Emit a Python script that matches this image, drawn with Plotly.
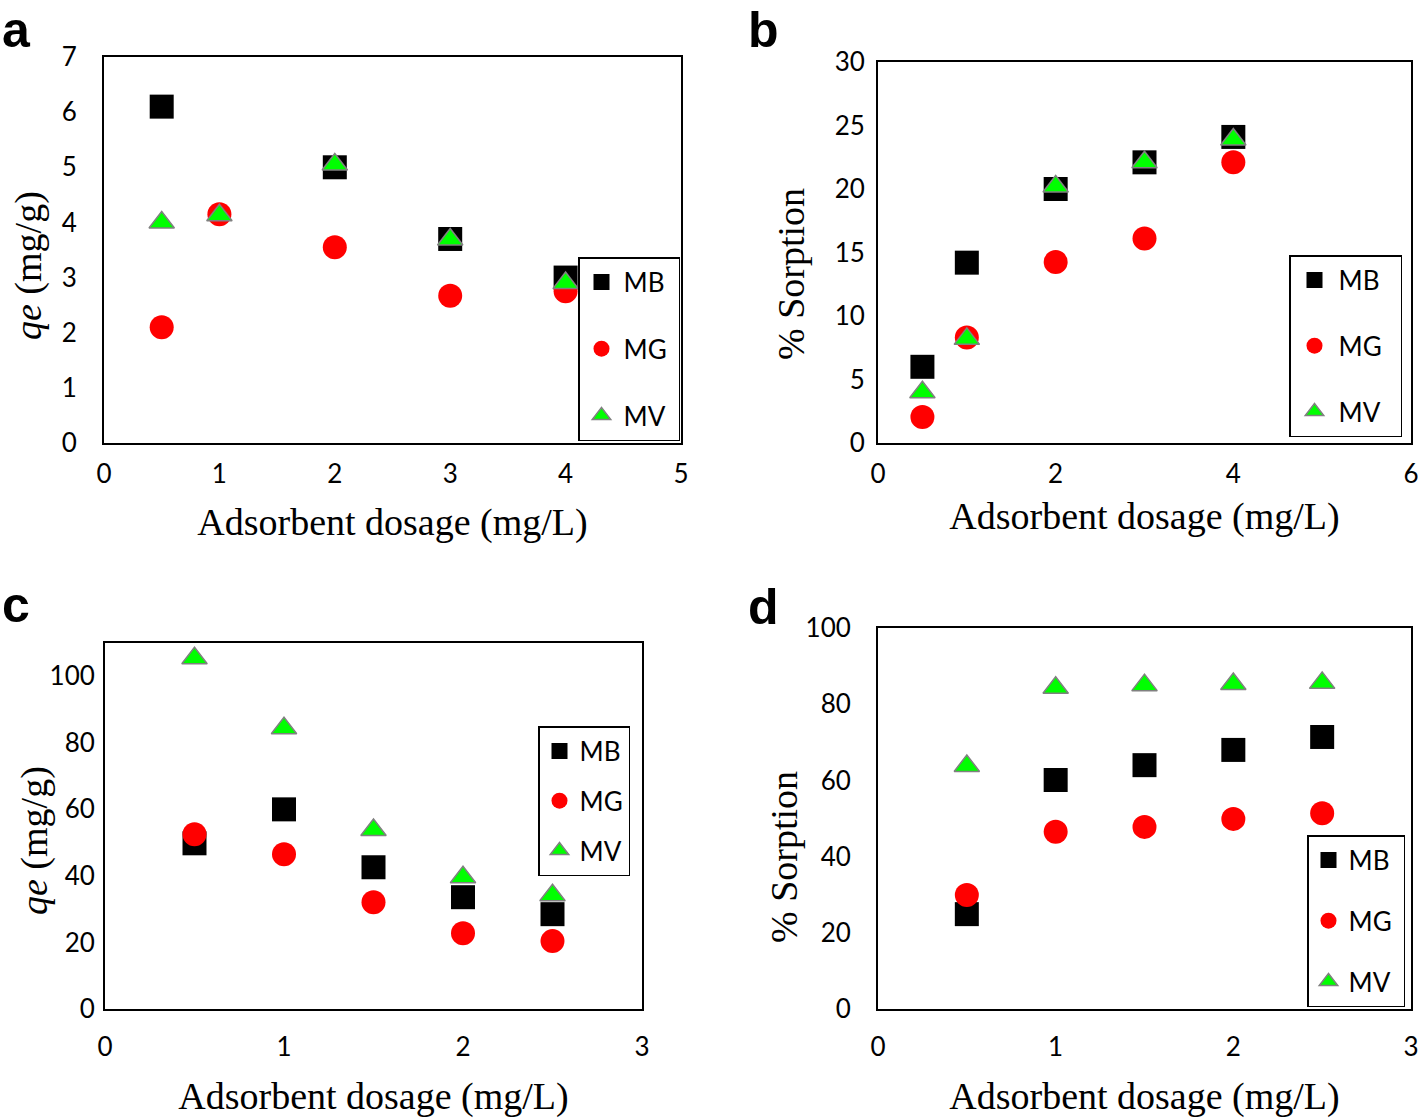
import plotly.graph_objects as go

# ---- data ----
a_x_MB = [0.5, 2, 3, 4]
a_MB = [6.1, 5.0, 3.7, 3.0]
a_x = [0.5, 1, 2, 3, 4]
a_MG = [2.1, 4.15, 3.55, 2.67, 2.75]
a_MV = [4.0, 4.13, 5.05, 3.69, 2.9]

b_x = [0.5, 1, 2, 3, 4]
b_MB = [6.0, 14.2, 20.0, 22.1, 24.1]
b_MG = [2.05, 8.3, 14.25, 16.1, 22.1]
b_MV = [4.0, 8.2, 20.2, 22.1, 23.9]

c_x = [0.5, 1, 1.5, 2, 2.5]
c_MB = [49.8, 60.0, 42.6, 33.6, 28.5]
c_MG = [52.5, 46.5, 32.1, 22.8, 20.4]
c_MV = [105.4, 84.4, 53.8, 39.6, 34.2]

d_x = [0.5, 1, 1.5, 2, 2.5]
d_MB = [24.9, 60.1, 64.0, 68.0, 71.4]
d_MG = [29.9, 46.5, 47.8, 49.9, 51.4]
d_MV = [63.8, 84.3, 85.0, 85.3, 85.6]

series_names = ["MB", "MG", "MV"]
panel_letters = ["a", "b", "c", "d"]
x_title = "Adsorbent dosage (mg/L)"
y_titles = ["<i>qe</i> (mg/g)", "% Sorption", "<i>qe</i> (mg/g)", "% Sorption"]

W, H = 1418, 1118
def px(x): return x / W
def py(y): return 1 - y / H

fig = go.Figure()

styles = {
    "MB": dict(symbol="square", color="black", size=24, line=dict(width=0)),
    "MG": dict(symbol="circle", color="#FF0000", size=24, line=dict(width=0)),
    "MV": dict(symbol="triangle-up", color="#00FF00", size=22, line=dict(width=1.5, color="#808080")),
}

NB = "\u00a0"
legend_pad = {"legend": 1, "legend2": 2, "legend3": 0, "legend4": 1}

panels = [
    ("x", "y", "legend", [(a_x_MB, a_MB), (a_x, a_MG), (a_x, a_MV)]),
    ("x2", "y2", "legend2", [(b_x, b_MB), (b_x, b_MG), (b_x, b_MV)]),
    ("x3", "y3", "legend3", [(c_x, c_MB), (c_x, c_MG), (c_x, c_MV)]),
    ("x4", "y4", "legend4", [(d_x, d_MB), (d_x, d_MG), (d_x, d_MV)]),
]
for xa, ya, lg, data in panels:
    for name, (xs, ys) in zip(series_names, data):
        fig.add_trace(go.Scatter(x=xs, y=ys, mode="markers", name=name + NB * legend_pad[lg],
                                 xaxis=xa, yaxis=ya, legend=lg,
                                 legendgroup=lg + name,
                                 marker=styles[name]))

tickfont = dict(family="Lato, Carlito, sans-serif", size=26, color="black")
titlefont = dict(family="Liberation Serif, Times New Roman, serif", size=38, color="black")

def xaxis(dom, rng, dt, anchor, lstand, standoff):
    return dict(domain=dom, range=rng, dtick=dt, anchor=anchor, showgrid=False,
                zeroline=False, showline=True, linecolor="black", linewidth=2,
                mirror=True, ticks="", tickfont=tickfont, ticklabelstandoff=lstand,
                ticklabeloverflow="allow", automargin=False,
                title=dict(text=x_title, font=titlefont, standoff=standoff))

def yaxis(dom, rng, dt, anchor, lstand):
    return dict(domain=dom, range=rng, dtick=dt, anchor=anchor, showgrid=False,
                zeroline=False, showline=True, linecolor="black", linewidth=2,
                mirror=True, ticks="", tickfont=tickfont, ticklabelstandoff=lstand,
                ticklabeloverflow="allow", automargin=False)

fig.update_layout(
    width=W, height=H, margin=dict(l=0, r=0, t=0, b=0),
    paper_bgcolor="white", plot_bgcolor="white", showlegend=True,
    xaxis=xaxis([px(104), px(681)], [0, 5], 1, "y", 7, 20),
    yaxis=yaxis([py(443), py(57)], [0, 7], 1, "x", 20),
    xaxis2=xaxis([px(878), px(1411)], [0, 6], 2, "y2", 7, 14),
    yaxis2=yaxis([py(443), py(62)], [0, 30], 5, "x2", 6),
    xaxis3=xaxis([px(105), px(642)], [0, 3], 1, "y3", 14, 21),
    yaxis3=yaxis([py(1009), py(643)], [0, 110], 20, "x3", 3),
    xaxis4=xaxis([px(878), px(1411)], [0, 3], 1, "y4", 14, 21),
    yaxis4=yaxis([py(1009), py(628)], [0, 100], 20, "x4", 20),
)

# y-axis titles (placed as in the reference, slightly below each axis middle)
ytitle_pos = [(28, 266), (791, 274), (34, 841), (784, 857)]
for t, (x, y) in zip(y_titles, ytitle_pos):
    fig.add_annotation(text=t, x=px(x), y=py(y), xref="paper", yref="paper",
                       xanchor="center", yanchor="middle", textangle=-90, showarrow=False,
                       font=titlefont)

legfont = dict(family="Lato, Carlito, sans-serif", size=26, color="black")
def leg(x1, y0, gap, iw):
    return dict(x=px(x1), y=py(y0), xanchor="right", yanchor="top",
                bordercolor="black", borderwidth=1.5, bgcolor="white",
                font=legfont, tracegroupgap=gap, traceorder="grouped",
                itemsizing="trace", itemwidth=iw)

fig.update_layout(
    legend=leg(680, 257, 30, 34),
    legend2=leg(1402, 255, 29, 38),
    legend3=leg(630, 726, 13, 30),
    legend4=leg(1405, 835, 24, 30),
)

letters_x = [16, 763, 16, 763]
letters_y = [0, 0, 575, 577]
for t, x, y in zip(panel_letters, letters_x, letters_y):
    fig.add_annotation(text="<b>" + t + "</b>", x=px(x), y=py(y), xref="paper", yref="paper",
                       xanchor="center", yanchor="top", showarrow=False,
                       font=dict(family="Liberation Sans, Arial, sans-serif", size=50, color="black"))

fig.write_html("out.html", config={"displayModeBar": False},
               post_script="document.body.style.margin='0';document.body.style.overflow='hidden';")
